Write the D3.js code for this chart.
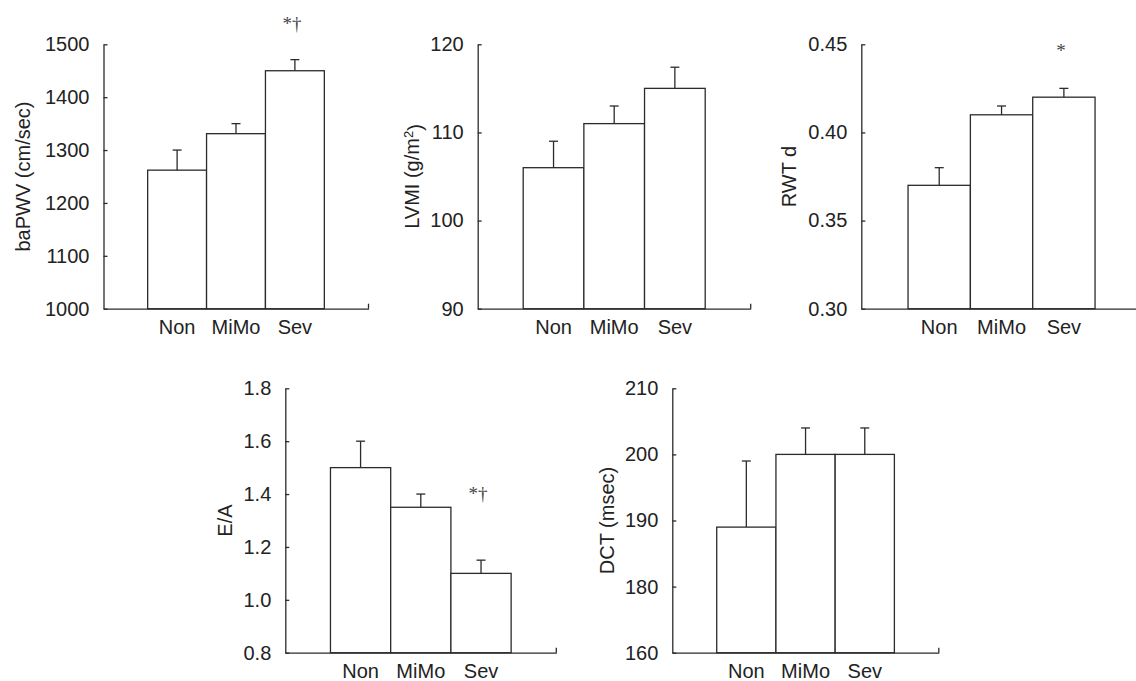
<!DOCTYPE html>
<html>
<head>
<meta charset="utf-8">
<script src="https://cdn.jsdelivr.net/npm/d3@7"></script>
<style>
  html, body { margin: 0; padding: 0; background: #fff; }
  svg { display: block; }
</style>
</head>
<body>
<svg id="chart" width="1136" height="681"></svg>
<script>
// ---- data ----
const categories = ["Non", "MiMo", "Sev"];

const baPWVMean = [1262, 1331, 1450];
const baPWVErr  = [38, 19, 21];
const baPWVTicks = [1000, 1100, 1200, 1300, 1400, 1500];

const lvmiMean = [106, 111, 115];
const lvmiErr  = [3, 2, 2.4];
const lvmiTicks = [90, 100, 110, 120];

const rwtMean = [0.37, 0.41, 0.42];
const rwtErr  = [0.01, 0.005, 0.005];
const rwtTicks = [0.30, 0.35, 0.40, 0.45];

const eaMean = [1.5, 1.35, 1.1];
const eaErr  = [0.1, 0.05, 0.05];
const eaTicks = [0.8, 1.0, 1.2, 1.4, 1.6, 1.8];

// DCT axis is broken in the original: the lowest tick is labelled 160
// but sits one step (10 msec) below 180.
const dctMean = [189, 200, 200];
const dctErr  = [10, 4, 4];
const dctTicks = [170, 180, 190, 200, 210];
const dctTickLabels = ["160", "180", "190", "200", "210"];

// significance markers: [category, value position, text]
const baPWVSig = [["Sev", 1540, "*\u2020"]];
const rwtSig   = [["Sev", 0.4468, "*"]];
const eaSig    = [["Sev", 1.403, "*\u2020"]];

// ---- layout ----
const panels = [
  { mean: baPWVMean, err: baPWVErr, ticks: baPWVTicks, fmt: d3.format("d"), sig: baPWVSig,
    label: ["baPWV (cm/sec)"], x0: 103.5, top: 44.3, L: 265, labelOff: 80.5 },
  { mean: lvmiMean, err: lvmiErr, ticks: lvmiTicks, fmt: d3.format("d"), sig: [],
    label: ["LVMI (g/m", "2", ")"], x0: 477.7, top: 44.3, L: 273, labelOff: 66 },
  { mean: rwtMean, err: rwtErr, ticks: rwtTicks, fmt: d3.format(".2f"), sig: rwtSig,
    label: ["RWT d"], x0: 861.3, top: 44.3, L: 280.5, labelOff: 72.3 },
  { mean: eaMean, err: eaErr, ticks: eaTicks, fmt: d3.format(".1f"), sig: eaSig,
    label: ["E/A"], x0: 285.3, top: 388.3, L: 271, labelOff: 60.3 },
  { mean: dctMean, err: dctErr, ticks: dctTicks, fmt: (d, i) => dctTickLabels[i], sig: [],
    label: ["DCT (msec)"], x0: 672.3, top: 388.3, L: 266.5, labelOff: 65.6 }
];

const H = 264.4;
const ink = "#2b2b2b";
const textInk = "#222";
const font = "'Liberation Sans', Arial, Helvetica, sans-serif";

const svg = d3.select("#chart");

panels.forEach(p => {
  const g = svg.append("g").attr("transform", `translate(${p.x0},${p.top})`);
  const dom = d3.extent(p.ticks);
  const y = d3.scaleLinear().domain(dom).range([H, 0]);
  const x = d3.scaleBand().domain(categories).range([0, p.L]).paddingInner(0).paddingOuter(0.75);

  // y axis (ticks pointing inward)
  const yAxis = d3.axisLeft(y).tickValues(p.ticks).tickFormat(p.fmt).tickSize(-4).tickSizeOuter(0).tickPadding(14);
  const ya = g.append("g").call(yAxis);
  ya.select(".domain").attr("stroke", ink).attr("stroke-width", 1.3);
  ya.selectAll(".tick line").attr("stroke", ink).attr("stroke-width", 1.3);
  ya.selectAll(".tick text").attr("fill", textInk).style("font-family", font).style("font-size", "20px");

  // x axis
  const xAxis = d3.axisBottom(x).tickSize(0).tickSizeOuter(0).tickPadding(11);
  const xa = g.append("g").attr("transform", `translate(0,${H})`).call(xAxis);
  xa.select(".domain").attr("stroke", ink).attr("stroke-width", 1.3);
  xa.selectAll(".tick text").attr("fill", textInk).style("font-family", font).style("font-size", "20px");
  // end tick (pointing up)
  g.append("line").attr("x1", p.L).attr("x2", p.L).attr("y1", H).attr("y2", H - 5)
    .attr("stroke", ink).attr("stroke-width", 1.3);

  // bars
  const rows = categories.map((c, i) => ({ c, m: p.mean[i], e: p.err[i] }));
  g.selectAll("rect.bar").data(rows).enter().append("rect")
    .attr("x", d => x(d.c)).attr("width", x.bandwidth())
    .attr("y", d => y(d.m)).attr("height", d => H - y(d.m))
    .attr("fill", "#fff").attr("stroke", ink).attr("stroke-width", 1.3);

  // error bars
  const eb = g.selectAll("g.err").data(rows).enter().append("g");
  eb.append("line")
    .attr("x1", d => x(d.c) + x.bandwidth() / 2).attr("x2", d => x(d.c) + x.bandwidth() / 2)
    .attr("y1", d => y(d.m)).attr("y2", d => y(d.m + d.e))
    .attr("stroke", ink).attr("stroke-width", 1.3);
  eb.append("line")
    .attr("x1", d => x(d.c) + x.bandwidth() / 2 - 4.5).attr("x2", d => x(d.c) + x.bandwidth() / 2 + 4.5)
    .attr("y1", d => y(d.m + d.e)).attr("y2", d => y(d.m + d.e))
    .attr("stroke", ink).attr("stroke-width", 1.3);

  // significance markers
  g.selectAll("text.sig").data(p.sig).enter().append("text")
    .attr("x", d => x(d[0]) + x.bandwidth() / 2 - 3)
    .attr("y", d => y(d[1]))
    .attr("dy", "0.35em")
    .attr("text-anchor", "middle")
    .attr("fill", "#444")
    .style("font-family", "'Liberation Serif', 'Times New Roman', serif")
    .style("font-size", "19px")
    .text(d => d[2]);

  // y label
  const lab = g.append("text")
    .attr("transform", `translate(${-p.labelOff},${H / 2}) rotate(-90)`)
    .attr("text-anchor", "middle")
    .attr("dy", "0.35em")
    .attr("fill", textInk)
    .style("font-family", font)
    .style("font-size", "20px");
  if (p.label.length === 1) {
    lab.text(p.label[0]);
  } else {
    lab.append("tspan").text(p.label[0]);
    lab.append("tspan").attr("dy", "-0.45em").style("font-size", "13px").text(p.label[1]);
    lab.append("tspan").attr("dy", "0.45em").text(p.label[2]);
  }
});
</script>
</body>
</html>
